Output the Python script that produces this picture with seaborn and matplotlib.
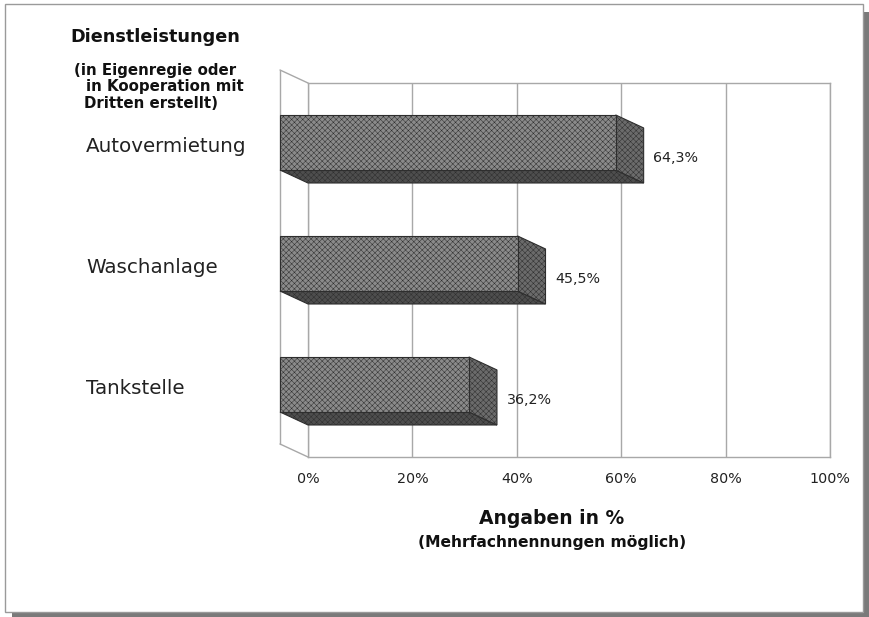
import matplotlib
matplotlib.use("Agg")
import matplotlib.pyplot as plt
import seaborn as sns
import pandas as pd
from matplotlib.patches import Polygon, Rectangle
from matplotlib.lines import Line2D

# ---- data ----
categories = ["Autovermietung", "Waschanlage", "Tankstelle"]
values = [64.3, 45.5, 36.2]
value_labels = ["64,3%", "45,5%", "36,2%"]
tick_values = [0, 20, 40, 60, 80, 100]
tick_labels = ["0%", "20%", "40%", "60%", "80%", "100%"]
title = "Dienstleistungen"
subtitle_lines = ["(in Eigenregie oder", "in Kooperation mit", "Dritten erstellt)"]
xlabel_main = "Angaben in %"
xlabel_sub = "(Mehrfachnennungen möglich)"

W, H = 869, 617
sns.set_theme(style="white")
plt.rcParams["font.family"] = ["DejaVu Sans"]
plt.rcParams["hatch.linewidth"] = 0.35

fig = plt.figure(figsize=(W / 100, H / 100), dpi=100)
fig.patch.set_facecolor("white")

def fx(px):
    return px / W

def fy(py):
    return 1 - py / H

# axes = back plane of the pseudo-3D chart
ax = fig.add_axes([fx(308), fy(457), fx(830) - fx(308), fy(83) - fy(457)])

df = pd.DataFrame({"cat": categories, "val": values})
sns.barplot(data=df, x="val", y="cat", orient="h", width=0.455,
            color="#8a8a8a", saturation=1, ax=ax)

ax.set_xlim(0, 100)
ax.set_ylim(2.492, -0.599)

# depth offset (front = back - offset)
DX = 28 / 5.22
DY = 13 / 121.0

GRID = "#a8a8a8"
TXT = "#222222"
ax.set_axisbelow(True)
ax.xaxis.grid(True, color=GRID, lw=1.0)
ax.yaxis.grid(False)
for s in ax.spines.values():
    s.set_color(GRID)
    s.set_linewidth(1.0)
    s.set_visible(True)

ax.set_xticks(tick_values)
ax.set_xticklabels(tick_labels, fontsize=10.3, color=TXT)
ax.tick_params(axis="x", length=0, pad=11)
ax.set_yticks([])
ax.set_xlabel("")
ax.set_ylabel("")

# left wall lines
y_top, y_bot = -0.599, 2.492
wall_kw = dict(color=GRID, lw=1.0, clip_on=False, zorder=1)
ax.add_line(Line2D([-DX, -DX], [y_top - DY, y_bot - DY], **wall_kw))
ax.add_line(Line2D([-DX, 0], [y_top - DY, y_top], **wall_kw))
ax.add_line(Line2D([-DX, 0], [y_bot - DY, y_bot], **wall_kw))

EDGE = "#2e2e2e"
patches = list(ax.patches)
for p in patches:
    x0, y0, w, h = p.get_x(), p.get_y(), p.get_width(), p.get_height()
    bottom = Polygon([(x0 - DX, y0 + h - DY), (x0 + w - DX, y0 + h - DY),
                      (x0 + w, y0 + h), (x0, y0 + h)], closed=True,
                     facecolor="#4e4e4e", edgecolor=EDGE, lw=0.8,
                     hatch="xxxxxx", clip_on=False, zorder=3)
    side = Polygon([(x0 + w - DX, y0 - DY), (x0 + w, y0), (x0 + w, y0 + h),
                    (x0 + w - DX, y0 + h - DY)], closed=True,
                   facecolor="#6b6b6b", edgecolor=EDGE, lw=0.8,
                   hatch="xxxxxx", clip_on=False, zorder=3)
    ax.add_patch(bottom)
    ax.add_patch(side)
    p.set_x(x0 - DX)
    p.set_y(y0 - DY)
    p.set_edgecolor(EDGE)
    p.set_linewidth(0.8)
    p.set_hatch("xxxxxx")
    p.set_clip_on(False)
    p.set_zorder(4)

# value labels
for i, (v, lab) in enumerate(zip(values, value_labels)):
    ax.annotate(lab, xy=(v, i + 0.02), xytext=(7, 0), textcoords="offset points",
                ha="left", va="center", fontsize=10.3, color=TXT,
                annotation_clip=False)

# category labels (left aligned)
for i, cat in enumerate(categories):
    ax.annotate(cat, xy=(0, i - DY + 0.03), xycoords=("axes fraction", "data"),
                xytext=(-(308 - 86) * 0.72, 0), textcoords="offset points",
                ha="left", va="center", fontsize=14.3, color=TXT,
                annotation_clip=False)

# titles
fig.text(fx(70), fy(37.5), title, ha="left", va="center", fontsize=12.7,
         fontweight="bold", color="#111111")
sub_y = [70, 87, 104]
sub_x = [74, 86, 84]
for t, yy, xx in zip(subtitle_lines, sub_y, sub_x):
    fig.text(fx(xx), fy(yy), t, ha="left", va="center", fontsize=10.8,
             fontweight="bold", color="#111111")

# x-axis title
fig.text(fx(552), fy(519), xlabel_main, ha="center", va="center", fontsize=13.5,
         fontweight="bold", color="#111111")
fig.text(fx(552), fy(543), xlabel_sub, ha="center", va="center", fontsize=11.2,
         fontweight="bold", color="#111111")

# page frame with shadow
fig.patches.append(Rectangle((fx(12), fy(617)), fx(868) - fx(12), 4 / H,
                             transform=fig.transFigure, facecolor="#7a7a7a",
                             edgecolor="none", zorder=0))
fig.patches.append(Rectangle((fx(864), fy(617)), 5 / W, fy(12) - fy(617),
                             transform=fig.transFigure, facecolor="#7a7a7a",
                             edgecolor="none", zorder=0))
fig.patches.append(Rectangle((fx(5), fy(612)), fx(863) - fx(5), fy(4) - fy(612),
                             transform=fig.transFigure, facecolor="none",
                             edgecolor="#9a9a9a", lw=1.0, zorder=1))

fig.savefig("out.png", dpi=100, facecolor="white")
